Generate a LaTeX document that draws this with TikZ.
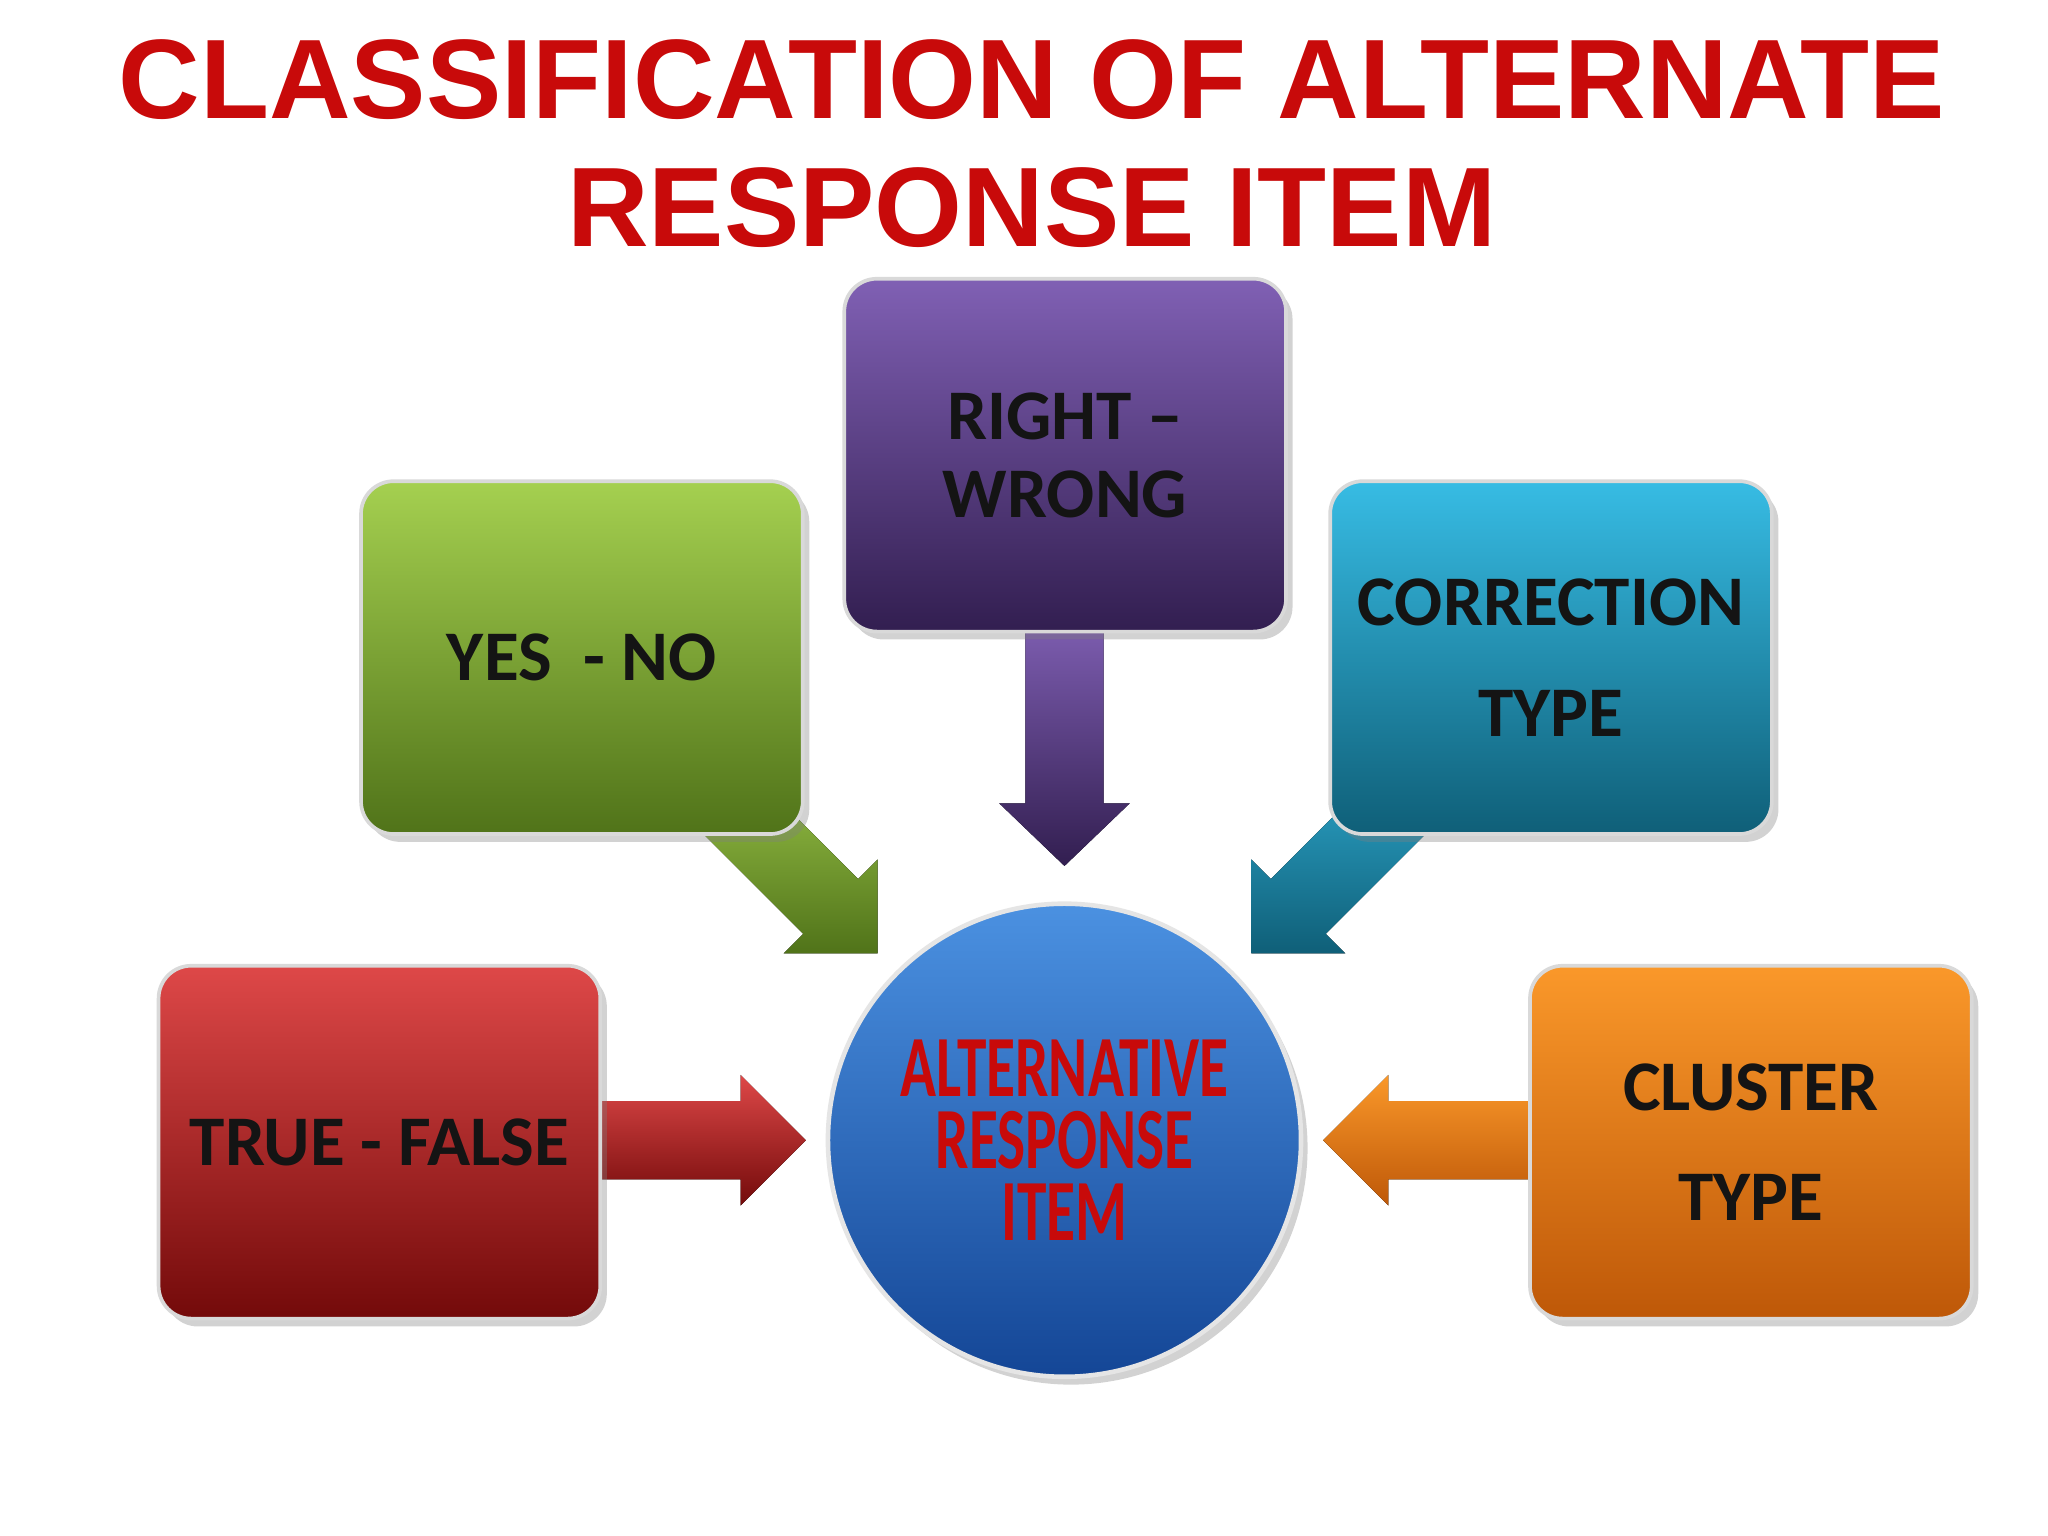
\documentclass[tikz,border=0pt]{standalone}
\usepackage{fontspec}
\setmainfont{Carlito}
\newfontfamily\arialf{Liberation Sans}
\usetikzlibrary{shadows}
\definecolor{ttl}{RGB}{200,10,10}
\definecolor{pT}{RGB}{128,96,180}\definecolor{pB}{RGB}{50,30,80}
\definecolor{gT}{RGB}{165,208,80}\definecolor{gB}{RGB}{80,115,25}
\definecolor{tT}{RGB}{55,188,228}\definecolor{tB}{RGB}{15,95,120}
\definecolor{rT}{RGB}{222,72,72}\definecolor{rB}{RGB}{115,10,10}
\definecolor{oT}{RGB}{250,152,42}\definecolor{oB}{RGB}{190,88,8}
\definecolor{bT}{RGB}{75,145,225}\definecolor{bB}{RGB}{20,70,150}
\definecolor{txt}{RGB}{20,20,20}
\begin{document}
\begin{tikzpicture}[x=0.01cm,y=-0.01cm,
  cat/.style={draw=white!70!gray,line width=0.8pt,rounded corners=0.25cm,
    minimum width=3.38cm,minimum height=2.70cm,anchor=north west,
    font=\bfseries\fontsize{15.5}{17}\selectfont,text=txt,align=center,
    drop shadow={opacity=0.35,shadow xshift=0.05cm,shadow yshift=-0.06cm}},
  arr/.style={draw=none}]
\useasboundingbox[fill=white] (0,0) rectangle (1568,1176);
\node[font=\arialf\bfseries\fontsize{24.6}{29}\selectfont,text=ttl,align=center] (title) at (790,110)
  {CLASSIFICATION OF ALTERNATE\\[-1pt]RESPONSE ITEM};
% arrows
\fill[top color=pT,bottom color=pB] (785,470) -- (845,470) -- (845,615) -- (865,615) -- (815,663) -- (765,615) -- (785,615) -- cycle;
\fill[top color=gT!80!gB,bottom color=gB] (579,595) -- (657,673) -- (672,658) -- (672,730) -- (600,730) -- (615,715) -- (537,637) -- cycle;
\fill[top color=tT!70!tB,bottom color=tB] (1051,595) -- (973,673) -- (958,658) -- (958,730) -- (1030,730) -- (1015,715) -- (1093,637) -- cycle;
\fill[top color=rT,bottom color=rB] (450,843) -- (567,843) -- (567,823) -- (617,873) -- (567,923) -- (567,903) -- (450,903) -- cycle;
\fill[top color=oT,bottom color=oB] (1180,843) -- (1063,843) -- (1063,823) -- (1013,873) -- (1063,923) -- (1063,903) -- (1180,903) -- cycle;
% boxes
\node[cat,top color=pT,bottom color=pB] (rw) at (645,212) {RIGHT --\\WRONG};
\node[cat,top color=gT,bottom color=gB] (yn) at (275,367) {YES\ \ - NO};
\node[cat,top color=tT,bottom color=tB,font=\bfseries\fontsize{15.5}{24}\selectfont] (ct) at (1017,367) {CORRECTION\\TYPE};
\node[cat,top color=rT,bottom color=rB] (tf) at (120,738) {TRUE - FALSE};
\node[cat,top color=oT,bottom color=oB,font=\bfseries\fontsize{15.5}{24}\selectfont] (cl) at (1170,738) {CLUSTER\\TYPE};
% circle
\node[circle,minimum size=3.62cm,draw=white!80!gray,line width=1pt,top color=bT,bottom color=bB,
  drop shadow={opacity=0.35,shadow xshift=0.05cm,shadow yshift=-0.06cm},
  text=ttl,align=center,font=\bfseries\fontsize{19}{15.6}\selectfont] (c) at (815,873)
  {\scalebox{0.68}[1]{ALTERNATIVE}\\\scalebox{0.68}[1]{RESPONSE}\\\scalebox{0.68}[1]{ITEM}};
\end{tikzpicture}
\end{document}
